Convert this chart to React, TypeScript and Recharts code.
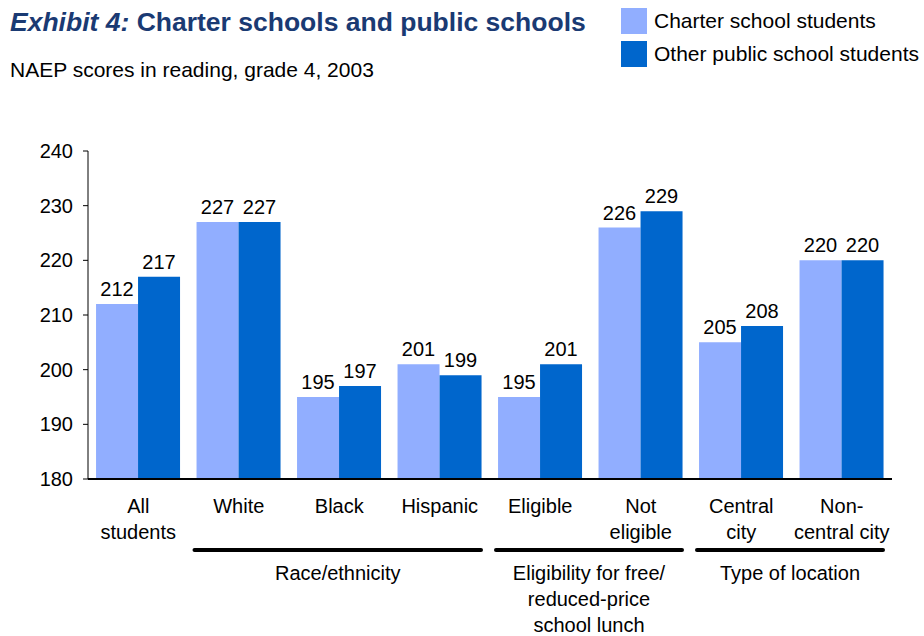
import React from 'react';
import { BarChart, Bar, XAxis, YAxis, LabelList, Legend } from 'recharts';

const categories = ['All\nstudents', 'White', 'Black', 'Hispanic', 'Eligible', 'Not\neligible', 'Central\ncity', 'Non-\ncentral city'];
const charterScores = [212, 227, 195, 201, 195, 226, 205, 220];
const otherScores = [217, 227, 197, 199, 201, 229, 208, 220];
const yTicks = [180, 190, 200, 210, 220, 230, 240];

const groups = [
  { start: 1, count: 3, label: ['Race/ethnicity'] },
  { start: 4, count: 2, label: ['Eligibility for free/', 'reduced-price', 'school lunch'] },
  { start: 6, count: 2, label: ['Type of location'] },
];

const series = [
  { key: 'charter', name: 'Charter school students', color: '#91AEFF' },
  { key: 'other', name: 'Other public school students', color: '#0066CC' },
];

const data = categories.map((c, i) => ({ name: c, charter: charterScores[i], other: otherScores[i] }));

const W = 924;
const H = 636;
const margin = { top: 151, right: 32, left: 40, bottom: 7 };
const Y_AXIS_W = 48;
const BAND = (W - margin.left - margin.right - Y_AXIS_W) / categories.length;
const FONT = '"Liberation Sans", Arial, sans-serif';

const CategoryTick = (props: any) => {
  const { x, y, payload, index } = props;
  const lines = String(payload.value).split('\n');
  const group = groups.find(g => g.start === index);
  return (
    <g>
      <text x={x} y={y} textAnchor="middle" fontSize={20} fill="#000" fontFamily={FONT}>
        {lines.map((l, i) => (
          <tspan key={i} x={x} dy={i === 0 ? 34 : 26}>{l}</tspan>
        ))}
      </text>
      {group && (() => {
        const x1 = x - BAND / 2 + 6;
        const x2 = x + (group.count - 0.5) * BAND - 9;
        const cx = (x1 + x2) / 2;
        return (
          <g>
            <line x1={x1} x2={x2} y1={y + 71} y2={y + 71} stroke="#000" strokeWidth={4} strokeLinecap="round" />
            <text x={cx} y={y} textAnchor="middle" fontSize={20} fill="#000" fontFamily={FONT}>
              {group.label.map((l, i) => (
                <tspan key={i} x={cx} dy={i === 0 ? 101 : 26}>{l}</tspan>
              ))}
            </text>
          </g>
        );
      })()}
    </g>
  );
};

const LegendBox = () => (
  <div style={{ fontFamily: FONT, fontSize: 21, color: '#000' }}>
    {series.map(s => (
      <div key={s.key} style={{ display: 'flex', alignItems: 'center', height: 33, whiteSpace: 'nowrap' }}>
        <div style={{ width: 26, height: 26, background: s.color, marginRight: 7, flexShrink: 0 }} />
        <span>{s.name}</span>
      </div>
    ))}
  </div>
);

export default function App() {
  return (
    <div style={{ position: 'absolute', left: 0, top: 0, width: W, height: H, background: '#fff', fontFamily: FONT }}>
      <div style={{ position: 'absolute', left: 10, top: 7, fontSize: 26.5, lineHeight: '30px', fontWeight: 'bold', color: '#1A3A73', whiteSpace: 'nowrap' }}>
        <i>Exhibit 4:</i> Charter schools and public schools
      </div>
      <div style={{ position: 'absolute', left: 10, top: 58, fontSize: 21, lineHeight: '24px', color: '#000', whiteSpace: 'nowrap' }}>
        NAEP scores in reading, grade 4, 2003
      </div>
      <BarChart width={W} height={H} data={data} margin={margin} barCategoryGap="8%" barGap={0}>
        <Legend
          layout="vertical"
          align="center"
          verticalAlign="middle"
          wrapperStyle={{ top: 4, left: 621, width: 303 }}
          content={<LegendBox />}
        />
        <YAxis
          width={Y_AXIS_W}
          domain={[180, 240]}
          ticks={yTicks}
          interval={0}
          allowDataOverflow
          tickSize={5}
          tickMargin={10}
          stroke="#000"
          tick={{ fontSize: 20, fill: '#000', fontFamily: FONT }}
        />
        <XAxis
          dataKey="name"
          height={150}
          interval={0}
          tickLine={false}
          tickSize={0}
          tickMargin={0}
          stroke="#000"
          strokeWidth={2}
          tick={<CategoryTick />}
        />
        {series.map(s => (
          <Bar key={s.key} dataKey={s.key} name={s.name} fill={s.color} isAnimationActive={false}>
            <LabelList dataKey={s.key} position="top" offset={8} fill="#000" fontSize={20} fontFamily={FONT} />
          </Bar>
        ))}
      </BarChart>
    </div>
  );
}
